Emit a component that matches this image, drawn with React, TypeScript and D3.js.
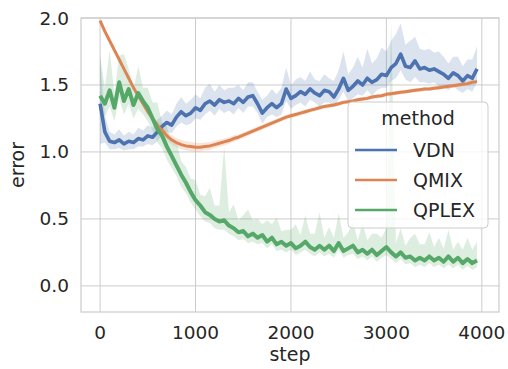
import * as d3 from 'd3';

// training steps (every 50)
const steps = d3.range(0, 4000, 50);

const vdnMean = [
  1.36, 1.15, 1.08, 1.07, 1.09, 1.06, 1.08, 1.07, 1.1, 1.09,
  1.12, 1.11, 1.15, 1.19, 1.22, 1.2, 1.26, 1.3, 1.27, 1.29,
  1.33, 1.31, 1.36, 1.38, 1.35, 1.39, 1.37, 1.38, 1.36, 1.4,
  1.37, 1.41, 1.42, 1.36, 1.29, 1.33, 1.36, 1.33, 1.36, 1.47,
  1.4, 1.42, 1.45, 1.43, 1.47, 1.44, 1.42, 1.46, 1.45, 1.41,
  1.47, 1.55, 1.46, 1.49, 1.53, 1.5, 1.55, 1.52, 1.54, 1.58,
  1.57, 1.63, 1.66, 1.73, 1.64, 1.63, 1.68, 1.62, 1.63, 1.61,
  1.62, 1.6, 1.58, 1.55, 1.59, 1.57, 1.53, 1.57, 1.55, 1.62,
];
const vdnLow = [
  0.3, 0.08, 0.06, 0.05, 0.06, 0.05, 0.06, 0.05, 0.06, 0.05,
  0.06, 0.06, 0.07, 0.06, 0.07, 0.06, 0.07, 0.08, 0.07, 0.08,
  0.08, 0.07, 0.08, 0.07, 0.08, 0.07, 0.08, 0.07, 0.08, 0.07,
  0.08, 0.07, 0.08, 0.07, 0.08, 0.07, 0.08, 0.07, 0.08, 0.09,
  0.08, 0.07, 0.08, 0.09, 0.08, 0.07, 0.08, 0.09, 0.08, 0.07,
  0.08, 0.1, 0.08, 0.09, 0.1, 0.08, 0.09, 0.1, 0.08, 0.1,
  0.09, 0.1, 0.11, 0.12, 0.1, 0.11, 0.12, 0.1, 0.11, 0.1,
  0.1, 0.11, 0.1, 0.09, 0.1, 0.11, 0.09, 0.1, 0.1, 0.1,
];
const vdnHigh = [
  0.35, 0.12, 0.07, 0.06, 0.08, 0.06, 0.07, 0.06, 0.08, 0.07,
  0.08, 0.07, 0.09, 0.08, 0.09, 0.08, 0.1, 0.11, 0.09, 0.1,
  0.1, 0.09, 0.12, 0.13, 0.1, 0.11, 0.09, 0.1, 0.12, 0.1,
  0.09, 0.11, 0.1, 0.09, 0.1, 0.09, 0.11, 0.1, 0.12, 0.16,
  0.1, 0.12, 0.11, 0.1, 0.13, 0.1, 0.11, 0.12, 0.1, 0.12,
  0.14, 0.2, 0.12, 0.14, 0.18, 0.13, 0.22, 0.14, 0.16, 0.2,
  0.18, 0.2, 0.22, 0.23, 0.16, 0.2, 0.18, 0.15, 0.13, 0.16,
  0.12, 0.15, 0.13, 0.11, 0.12, 0.14, 0.11, 0.12, 0.14, 0.17,
];

const qmixMean = [
  1.98, 1.9, 1.83, 1.76, 1.69, 1.62, 1.55, 1.48, 1.42, 1.36,
  1.3, 1.25, 1.2, 1.16, 1.12, 1.09, 1.07, 1.055, 1.045, 1.04,
  1.035, 1.035, 1.04, 1.045, 1.055, 1.065, 1.075, 1.085, 1.1, 1.11,
  1.125, 1.14, 1.155, 1.17, 1.185, 1.2, 1.215, 1.23, 1.245, 1.26,
  1.27, 1.28, 1.29, 1.3, 1.31, 1.32, 1.33, 1.34, 1.345, 1.35,
  1.36, 1.37, 1.375, 1.38, 1.39, 1.395, 1.4, 1.41, 1.415, 1.42,
  1.43, 1.435, 1.44, 1.445, 1.45, 1.455, 1.46, 1.465, 1.47, 1.47,
  1.475, 1.48, 1.485, 1.49, 1.495, 1.5, 1.505, 1.51, 1.52, 1.525,
];
const qmixSpread = [
  0.01, 0.01, 0.01, 0.012, 0.012, 0.014, 0.015, 0.016, 0.018, 0.02,
  0.022, 0.025, 0.028, 0.03, 0.032, 0.034, 0.035, 0.035, 0.035, 0.034,
  0.033, 0.032, 0.03, 0.03, 0.028, 0.027, 0.026, 0.025, 0.024, 0.023,
  0.022, 0.021, 0.02, 0.02, 0.02, 0.019, 0.019, 0.018, 0.018, 0.018,
  0.017, 0.017, 0.017, 0.016, 0.016, 0.016, 0.016, 0.015, 0.015, 0.015,
  0.015, 0.015, 0.015, 0.015, 0.015, 0.015, 0.015, 0.015, 0.015, 0.015,
  0.015, 0.015, 0.015, 0.015, 0.015, 0.015, 0.015, 0.015, 0.015, 0.015,
  0.015, 0.015, 0.015, 0.015, 0.015, 0.015, 0.015, 0.015, 0.015, 0.015,
];

const qplexMean = [
  1.42, 1.36, 1.46, 1.33, 1.52, 1.38, 1.47, 1.35, 1.44, 1.38,
  1.33, 1.25, 1.17, 1.12, 1.04, 0.97, 0.9, 0.83, 0.77, 0.7,
  0.64, 0.6, 0.55, 0.53, 0.5, 0.48, 0.49, 0.45, 0.43, 0.4,
  0.41, 0.37, 0.39, 0.36, 0.38, 0.33, 0.36, 0.31, 0.33, 0.3,
  0.32, 0.28, 0.3, 0.33, 0.29, 0.27, 0.3, 0.27, 0.3, 0.26,
  0.32, 0.26, 0.28, 0.3, 0.25, 0.27, 0.24, 0.27, 0.23, 0.26,
  0.29, 0.25, 0.22, 0.25, 0.21, 0.22, 0.19, 0.21, 0.19, 0.22,
  0.19, 0.21, 0.18, 0.22, 0.18, 0.21, 0.17, 0.2, 0.17, 0.19,
];
const qplexLow = [
  0.12, 0.1, 0.12, 0.1, 0.12, 0.1, 0.11, 0.1, 0.12, 0.1,
  0.1, 0.09, 0.1, 0.09, 0.1, 0.09, 0.08, 0.09, 0.08, 0.08,
  0.07, 0.08, 0.07, 0.06, 0.07, 0.06, 0.07, 0.06, 0.06, 0.06,
  0.06, 0.05, 0.06, 0.05, 0.06, 0.05, 0.05, 0.05, 0.06, 0.05,
  0.05, 0.05, 0.05, 0.06, 0.05, 0.05, 0.05, 0.05, 0.06, 0.05,
  0.05, 0.05, 0.05, 0.06, 0.05, 0.05, 0.05, 0.05, 0.05, 0.05,
  0.06, 0.05, 0.05, 0.05, 0.05, 0.05, 0.05, 0.05, 0.05, 0.05,
  0.05, 0.05, 0.05, 0.06, 0.05, 0.05, 0.05, 0.05, 0.05, 0.05,
];
const qplexHigh = [
  0.3, 0.12, 0.3, 0.1, 0.2, 0.35, 0.15, 0.12, 0.2, 0.1,
  0.15, 0.12, 0.2, 0.1, 0.15, 0.1, 0.18, 0.1, 0.12, 0.1,
  0.15, 0.08, 0.12, 0.2, 0.1, 0.12, 0.55, 0.1, 0.18, 0.09,
  0.12, 0.2, 0.1, 0.14, 0.08, 0.16, 0.1, 0.2, 0.08, 0.12,
  0.1, 0.18, 0.08, 0.2, 0.1, 0.12, 0.25, 0.09, 0.14, 0.1,
  0.22, 0.1, 0.12, 0.18, 0.09, 0.2, 0.1, 0.12, 0.16, 0.1,
  0.14, 1.72, 0.1, 0.18, 0.09, 0.14, 0.2, 0.1, 0.12, 0.18,
  0.1, 0.15, 0.1, 0.2, 0.09, 0.12, 0.1, 0.16, 0.1, 0.14,
];

const xTicks = [0, 1000, 2000, 3000, 4000];
const yTicks = [0, 0.5, 1.0, 1.5, 2.0];

const series = [
  { name: 'VDN', color: '#4c72b0', mean: vdnMean, lo: vdnLow, hi: vdnHigh, width: 3.6 },
  { name: 'QMIX', color: '#dd8452', mean: qmixMean, lo: qmixSpread, hi: qmixSpread, width: 3 },
  { name: 'QPLEX', color: '#55a868', mean: qplexMean, lo: qplexLow, hi: qplexHigh, width: 4 },
];

const W = 508;
const H = 369;
const margin = { top: 18, right: 9, bottom: 57, left: 81 };
const FONT = 'DejaVu Sans, sans-serif';
const TXT = '#262626';
const GRID = '#cccccc';

export default function App() {
  const iw = W - margin.left - margin.right;
  const ih = H - margin.top - margin.bottom;

  const x = d3.scaleLinear().domain([-200, 4180]).range([0, iw]);
  const y = d3.scaleLinear().domain([-0.195, 2.0]).range([ih, 0]);

  const line = d3
    .line<number>()
    .x((_, i) => x(steps[i]))
    .y(d => y(d));

  return (
    <svg
      width={W}
      height={H}
      style={{ position: 'fixed', left: 0, top: 0, background: '#fff' }}
      fontFamily={FONT}
    >
      <defs>
        <clipPath id="plot">
          <rect width={iw} height={ih} />
        </clipPath>
      </defs>
      <g transform={`translate(${margin.left},${margin.top})`}>
        {/* grid */}
        {xTicks.map(t => (
          <line key={'gx' + t} x1={x(t)} x2={x(t)} y1={0} y2={ih} stroke={GRID} strokeWidth={1} />
        ))}
        {yTicks.map(t => (
          <line key={'gy' + t} x1={0} x2={iw} y1={y(t)} y2={y(t)} stroke={GRID} strokeWidth={1} />
        ))}

        {/* bands and lines */}
        <g clipPath="url(#plot)">
          {series.map(s => {
            const area = d3
              .area<number>()
              .x((_, i) => x(steps[i]))
              .y0((d, i) => y(d - s.lo[i]))
              .y1((d, i) => y(d + s.hi[i]));
            return (
              <path key={'band' + s.name} d={area(s.mean) ?? ''} fill={s.color} opacity={0.2} />
            );
          })}
          {series.map(s => (
            <path
              key={'line' + s.name}
              d={line(s.mean) ?? ''}
              fill="none"
              stroke={s.color}
              strokeWidth={s.width}
              strokeLinejoin="round"
            />
          ))}
        </g>

        {/* frame */}
        <rect width={iw} height={ih} fill="none" stroke={GRID} strokeWidth={1.2} />

        {/* tick labels */}
        {xTicks.map(t => (
          <text key={'tx' + t} x={x(t)} y={ih + 27} textAnchor="middle" fontSize={18.5} fill={TXT}>
            {t}
          </text>
        ))}
        {yTicks.map(t => (
          <text key={'ty' + t} x={-12} y={y(t) + 6.5} textAnchor="end" fontSize={18.5} fill={TXT}>
            {t.toFixed(1)}
          </text>
        ))}

        {/* axis labels */}
        <text x={iw / 2} y={ih + 49} textAnchor="middle" fontSize={19} fill={TXT}>
          step
        </text>
        <text
          transform={`translate(${-57},${ih / 2}) rotate(-90)`}
          textAnchor="middle"
          fontSize={19}
          fill={TXT}
        >
          error
        </text>

        {/* legend */}
        <g transform={`translate(${348 - margin.left},${102 - margin.top})`}>
          <rect width={140} height={126} rx={4} fill="#fff" fillOpacity={0.8} stroke={GRID} strokeWidth={1} />
          <text x={70} y={23} textAnchor="middle" fontSize={19} fill={TXT}>
            method
          </text>
          {series.map((s, i) => (
            <g key={'leg' + s.name} transform={`translate(0,${48 + i * 30})`}>
              <line x1={7} x2={49} y1={0} y2={0} stroke={s.color} strokeWidth={2.6} />
              <text x={65} y={7} fontSize={19} fill={TXT}>
                {s.name}
              </text>
            </g>
          ))}
        </g>
      </g>
    </svg>
  );
}
